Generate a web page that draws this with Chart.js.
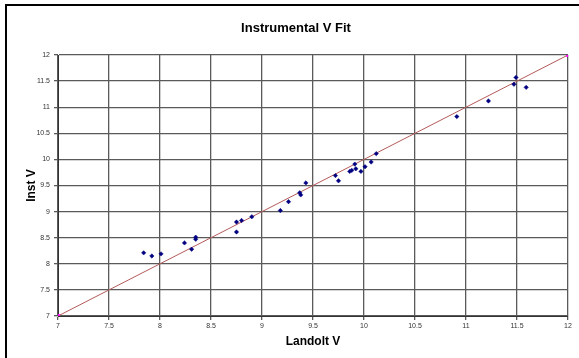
<!DOCTYPE html>
<html>
<head>
<meta charset="utf-8">
<script src="https://cdn.jsdelivr.net/npm/chart.js@4"></script>
<style>
html,body{margin:0;padding:0;background:#fff;}
canvas{display:block;}
</style>
</head>
<body>
<canvas id="c" width="579" height="358"></canvas>
<script>
const landoltV = [7.84, 7.92, 8.01, 8.24, 8.31, 8.35, 8.35, 8.75, 8.75, 8.80, 8.90, 9.18, 9.26, 9.37, 9.38, 9.43, 9.72, 9.75, 9.86, 9.88, 9.91, 9.92, 9.97, 10.01, 10.07, 10.12, 10.91, 11.22, 11.47, 11.49, 11.59];
const instV    = [8.21, 8.15, 8.19, 8.40, 8.28, 8.47, 8.51, 8.80, 8.61, 8.83, 8.90, 9.02, 9.19, 9.36, 9.32, 9.55, 9.69, 9.59, 9.77, 9.79, 9.91, 9.82, 9.77, 9.86, 9.95, 10.11, 10.82, 11.12, 11.44, 11.57, 11.38];
const fitX = [7, 12];
const fitY = [7, 12];
const xTickLabels = ['7','7.5','8','8.5','9','9.5','10','10.5','11','11.5','12'];
const yTickLabels = ['7','7.5','8','8.5','9','9.5','10','10.5','11','11.5','12'];

const points = landoltV.map((x, i) => ({x: x, y: instV[i]}));
const fit = fitX.map((x, i) => ({x: x, y: fitY[i]}));

const frame = {
  id: 'frame',
  beforeDraw(chart) {
    const ctx = chart.ctx;
    ctx.save();
    ctx.fillStyle = '#fff';
    ctx.fillRect(0, 0, chart.width, chart.height);
    ctx.fillStyle = '#000';
    ctx.fillRect(5, 4, 2, chart.height - 4);
    ctx.fillRect(5, 4, chart.width - 5, 2);
    ctx.restore();
  }
};

const gridColor = '#5a5a5a';
const tickFont = {family: 'Liberation Sans', size: 7};

new Chart(document.getElementById('c'), {
  type: 'scatter',
  data: {
    datasets: [
      {
        label: 'Inst V',
        data: points,
        pointStyle: 'rectRot',
        pointRadius: 2.2,
        pointBackgroundColor: '#000080',
        pointBorderColor: '#000080',
        pointBorderWidth: 0.5,
        showLine: false
      },
      {
        label: 'Fit',
        data: fit,
        showLine: true,
        borderColor: '#b55a5a',
        borderWidth: 1,
        pointStyle: 'rect',
        pointRadius: 2,
        pointBackgroundColor: '#ff00ff',
        pointBorderColor: '#ff00ff'
      }
    ]
  },
  options: {
    responsive: false,
    animation: false,
    layout: {padding: {left: 24, right: 11, top: 0, bottom: 0}},
    plugins: {
      legend: {display: false},
      tooltip: {enabled: false},
      title: {
        display: true,
        text: 'Instrumental V Fit',
        color: '#000',
        font: {family: 'Liberation Sans', size: 13, weight: 'bold'},
        padding: {top: 20.2, bottom: 19.2}
      }
    },
    scales: {
      x: {
        type: 'linear',
        min: 7, max: 12,
        afterBuildTicks(scale) {
          scale.ticks = xTickLabels.map(v => ({value: parseFloat(v)}));
        },
        afterFit(scale) { scale.height = 42; },
        ticks: {
          font: tickFont, color: '#333', padding: 2, maxRotation: 0, autoSkip: false,
          callback: (v, i) => xTickLabels[i]
        },
        grid: {color: gridColor, lineWidth: 1.3, tickLength: 4, tickColor: gridColor},
        border: {color: '#333', width: 1},
        title: {
          display: true, text: 'Landolt V', color: '#000',
          font: {family: 'Liberation Sans', size: 12, weight: 'bold'},
          padding: {top: 0, bottom: 8.8}
        }
      },
      y: {
        type: 'linear',
        min: 7, max: 12,
        afterBuildTicks(scale) {
          scale.ticks = yTickLabels.map(v => ({value: parseFloat(v)}));
        },
        afterFit(scale) { scale.width = 34; },
        ticks: {
          font: tickFont, color: '#333', padding: 4, autoSkip: false,
          callback: (v, i) => yTickLabels[i]
        },
        grid: {color: gridColor, lineWidth: 1.3, tickLength: 4, tickColor: gridColor},
        border: {color: '#333', width: 1},
        title: {
          display: true, text: 'Inst V', color: '#000',
          font: {family: 'Liberation Sans', size: 12, weight: 'bold'},
          padding: {top: 0, bottom: 0}
        }
      }
    }
  },
  plugins: [frame]
});
</script>
</body>
</html>
